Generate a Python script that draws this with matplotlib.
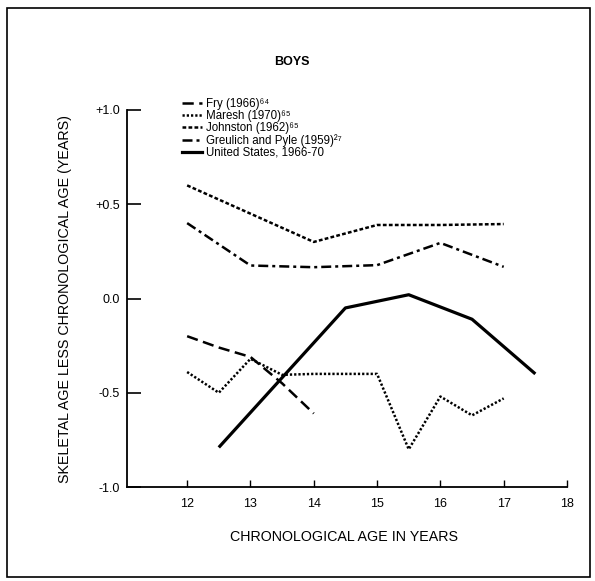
import matplotlib
matplotlib.use("Agg")
import matplotlib.pyplot as plt
from matplotlib.lines import Line2D
from matplotlib.patches import Rectangle

plt.rcParams['font.family'] = ['Liberation Sans', 'DejaVu Sans']

# ---- data ----
fry_x = [12, 12.5, 13, 13.5, 14]
fry_y = [-0.20, -0.26, -0.31, -0.45, -0.61]

maresh_x = [12, 12.5, 13, 13.5, 14, 14.5, 15, 15.5, 16, 16.5, 17]
maresh_y = [-0.39, -0.50, -0.32, -0.405, -0.40, -0.40, -0.40, -0.80, -0.52, -0.62, -0.53]

johnston_x = [12, 13, 14, 15, 16, 17]
johnston_y = [0.60, 0.45, 0.30, 0.39, 0.39, 0.395]

greulich_x = [12, 13, 14, 15, 16, 17]
greulich_y = [0.40, 0.175, 0.166, 0.177, 0.295, 0.168]

us_x = [12.5, 13.5, 14.5, 15.5, 16.5, 17.5]
us_y = [-0.79, -0.42, -0.05, 0.02, -0.11, -0.40]

labels = ["Fry (1966)\u2076\u2074", "Maresh (1970)\u2076\u2075", "Johnston (1962)\u2076\u2075",
          "Greulich and Pyle (1959)\u00b2\u2077", "United States, 1966-70"]
xticks = [12, 13, 14, 15, 16, 17, 18]
yticks = [-1.0, -0.5, 0.0, 0.5, 1.0]
yticklabels = ["-1.0", "-0.5", "0.0", "+0.5", "+1.0"]

W, H = 595, 581
fig = plt.figure(figsize=(W / 100, H / 100), dpi=100)
ax = fig.add_axes([127 / W, 1 - 487 / H, (567 - 127) / W, (487 - 110) / H])

lw = 1.8
ax.plot(fry_x, fry_y, color='black', lw=lw, dashes=(4.5, 2.2), solid_capstyle='butt')
ax.plot(maresh_x, maresh_y, color='black', lw=lw, dashes=(0.9, 0.8))
ax.plot(johnston_x, johnston_y, color='black', lw=lw, dashes=(1.5, 0.9))
ax.plot(greulich_x, greulich_y, color='black', lw=lw, dashes=(4.0, 1.6, 1.2, 1.6))
ax.plot(us_x, us_y, color='black', lw=2.3, solid_capstyle='butt')

ax.set_xlim(11.05, 18)
ax.set_ylim(-1.0, 1.0)
ax.set_xticks(xticks)
ax.set_yticks(yticks)
ax.set_yticklabels(yticklabels)
for s in ['top', 'right']:
    ax.spines[s].set_visible(False)
for s in ['left', 'bottom']:
    ax.spines[s].set_linewidth(1.3)
ax.tick_params(axis='y', direction='in', length=10, width=1.2, pad=5, labelsize=9)
ax.tick_params(axis='x', direction='in', length=5, width=1.0, pad=8, labelsize=9)

handles = [
    Line2D([], [], color='black', lw=lw, dashes=(4.5, 2.2)),
    Line2D([], [], color='black', lw=lw, dashes=(0.9, 0.8)),
    Line2D([], [], color='black', lw=lw, dashes=(1.5, 0.9)),
    Line2D([], [], color='black', lw=lw, dashes=(4.0, 1.6, 1.2, 1.6)),
    Line2D([], [], color='black', lw=2.3),
]
fig.legend(handles, labels, loc='upper left', bbox_to_anchor=(182 / W, 1 - 98 / H),
           frameon=False, fontsize=8.3, handlelength=1.75, handletextpad=0.3,
           labelspacing=0.0, borderpad=0, borderaxespad=0)

fig.text(292 / W, 1 - 62 / H, "BOYS", ha='center', va='center', fontsize=9, fontweight='bold')
fig.text(344 / W, 1 - 537 / H, "CHRONOLOGICAL AGE IN YEARS", ha='center', va='center', fontsize=10.3)
fig.text(65 / W, 1 - 299 / H, "SKELETAL AGE LESS CHRONOLOGICAL AGE (YEARS)", ha='center',
         va='center', rotation=90, fontsize=10.3)

fig.patches.append(Rectangle((7 / W, 1 - 577 / H), (590 - 7) / W, (577 - 8) / H,
                             transform=fig.transFigure, fill=False, edgecolor='black', lw=1.2))

fig.savefig("out.png", dpi=100)
